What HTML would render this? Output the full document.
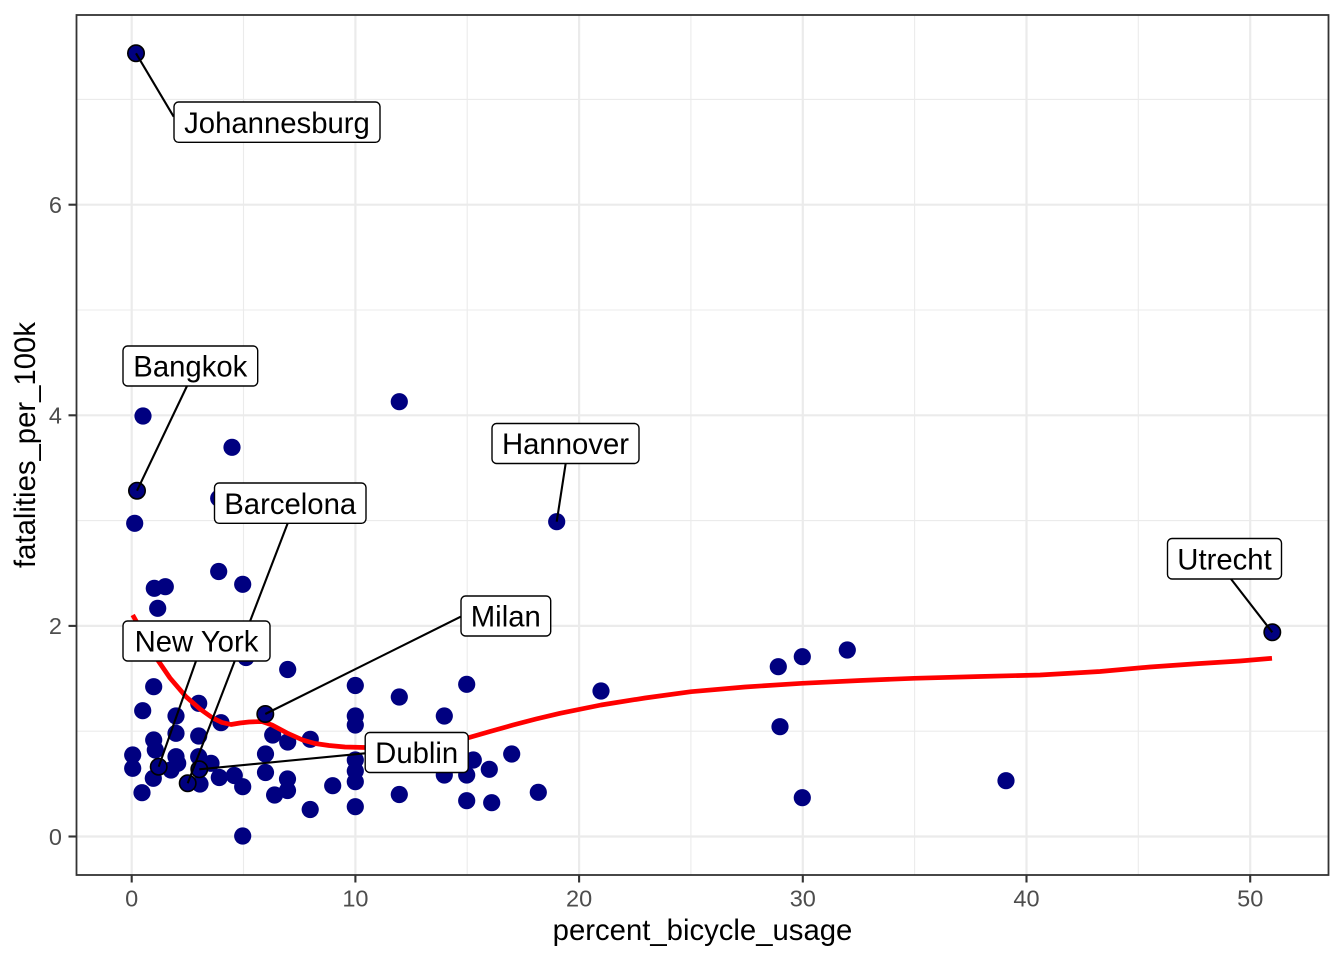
<!DOCTYPE html>
<html>
<head>
<meta charset="utf-8">
<style>
html,body{margin:0;padding:0;background:#ffffff;}
svg{display:block;}
text{font-family:"Liberation Sans",Arial,sans-serif;}
</style>
</head>
<body>
<svg width="1344" height="960" viewBox="0 0 1344 960" xmlns="http://www.w3.org/2000/svg">
<rect x="0" y="0" width="1344" height="960" fill="#ffffff"/>
<g stroke="#ebebeb" stroke-width="1.1">
<line x1="243.5" y1="15" x2="243.5" y2="875"/>
<line x1="467.2" y1="15" x2="467.2" y2="875"/>
<line x1="690.9" y1="15" x2="690.9" y2="875"/>
<line x1="914.6" y1="15" x2="914.6" y2="875"/>
<line x1="1138.3" y1="15" x2="1138.3" y2="875"/>
<line x1="76" y1="731.2" x2="1329" y2="731.2"/>
<line x1="76" y1="520.6" x2="1329" y2="520.6"/>
<line x1="76" y1="310" x2="1329" y2="310"/>
<line x1="76" y1="99.4" x2="1329" y2="99.4"/>
</g>
<g stroke="#ebebeb" stroke-width="2.2">
<line x1="131.7" y1="15" x2="131.7" y2="875"/>
<line x1="355.4" y1="15" x2="355.4" y2="875"/>
<line x1="579.1" y1="15" x2="579.1" y2="875"/>
<line x1="802.8" y1="15" x2="802.8" y2="875"/>
<line x1="1026.5" y1="15" x2="1026.5" y2="875"/>
<line x1="1250.2" y1="15" x2="1250.2" y2="875"/>
<line x1="76" y1="836.5" x2="1329" y2="836.5"/>
<line x1="76" y1="625.9" x2="1329" y2="625.9"/>
<line x1="76" y1="415.3" x2="1329" y2="415.3"/>
<line x1="76" y1="204.7" x2="1329" y2="204.7"/>
</g>
<g fill="#000080">
<circle cx="143" cy="416" r="8.6"/>
<circle cx="134.7" cy="523.3" r="8.6"/>
<circle cx="232" cy="447.3" r="8.6"/>
<circle cx="218.7" cy="498.3" r="8.6"/>
<circle cx="399.3" cy="401.7" r="8.6"/>
<circle cx="556.7" cy="521.7" r="8.6"/>
<circle cx="218.7" cy="571.5" r="8.6"/>
<circle cx="242.7" cy="584.3" r="8.6"/>
<circle cx="154.3" cy="588.3" r="8.6"/>
<circle cx="165.3" cy="586.7" r="8.6"/>
<circle cx="157.7" cy="608.3" r="8.6"/>
<circle cx="246" cy="657.5" r="8.6"/>
<circle cx="287.7" cy="669.5" r="8.6"/>
<circle cx="153.7" cy="686.7" r="8.6"/>
<circle cx="355.3" cy="685.5" r="8.6"/>
<circle cx="466.7" cy="684.3" r="8.6"/>
<circle cx="601" cy="691" r="8.6"/>
<circle cx="778.3" cy="666.7" r="8.6"/>
<circle cx="802.3" cy="656.7" r="8.6"/>
<circle cx="847.3" cy="650" r="8.6"/>
<circle cx="780" cy="726.7" r="8.6"/>
<circle cx="802.3" cy="797.7" r="8.6"/>
<circle cx="1006" cy="780.7" r="8.6"/>
<circle cx="142.7" cy="710.7" r="8.6"/>
<circle cx="176" cy="716" r="8.6"/>
<circle cx="198.7" cy="703.3" r="8.6"/>
<circle cx="399.3" cy="697" r="8.6"/>
<circle cx="355.3" cy="716" r="8.6"/>
<circle cx="355.3" cy="725" r="8.6"/>
<circle cx="221" cy="722.7" r="8.6"/>
<circle cx="444.3" cy="716" r="8.6"/>
<circle cx="176" cy="733.3" r="8.6"/>
<circle cx="198.7" cy="736" r="8.6"/>
<circle cx="153.7" cy="740" r="8.6"/>
<circle cx="272.7" cy="735" r="8.6"/>
<circle cx="287.7" cy="742" r="8.6"/>
<circle cx="310.3" cy="739.3" r="8.6"/>
<circle cx="265.5" cy="754" r="8.6"/>
<circle cx="155.3" cy="750" r="8.6"/>
<circle cx="355.3" cy="760" r="8.6"/>
<circle cx="132.7" cy="755" r="8.6"/>
<circle cx="132.7" cy="768.3" r="8.6"/>
<circle cx="176" cy="756.7" r="8.6"/>
<circle cx="177.7" cy="763.3" r="8.6"/>
<circle cx="171" cy="770" r="8.6"/>
<circle cx="198.7" cy="756.7" r="8.6"/>
<circle cx="211" cy="763.3" r="8.6"/>
<circle cx="153.3" cy="778.3" r="8.6"/>
<circle cx="200" cy="784" r="8.6"/>
<circle cx="219.3" cy="777.5" r="8.6"/>
<circle cx="234.3" cy="775.5" r="8.6"/>
<circle cx="242.7" cy="786.7" r="8.6"/>
<circle cx="265.5" cy="772.5" r="8.6"/>
<circle cx="287.5" cy="779" r="8.6"/>
<circle cx="287.5" cy="790.5" r="8.6"/>
<circle cx="274.6" cy="795" r="8.6"/>
<circle cx="332.7" cy="785.7" r="8.6"/>
<circle cx="355.3" cy="771" r="8.6"/>
<circle cx="355.3" cy="781.7" r="8.6"/>
<circle cx="355.3" cy="806.7" r="8.6"/>
<circle cx="142" cy="792.7" r="8.6"/>
<circle cx="310.2" cy="809.5" r="8.6"/>
<circle cx="242.7" cy="836" r="8.6"/>
<circle cx="399.3" cy="794.5" r="8.6"/>
<circle cx="473.3" cy="760" r="8.6"/>
<circle cx="489.3" cy="769.3" r="8.6"/>
<circle cx="511.7" cy="754" r="8.6"/>
<circle cx="444.3" cy="775" r="8.6"/>
<circle cx="466.7" cy="775" r="8.6"/>
<circle cx="466.7" cy="800.7" r="8.6"/>
<circle cx="491.7" cy="802.7" r="8.6"/>
<circle cx="538.3" cy="792.3" r="8.6"/>
</g>
<polyline fill="none" stroke="#ff0000" stroke-width="4.7" stroke-linejoin="round" stroke-linecap="butt"
points="132.7,615 140,628 148,643 157.7,660 170,678 186,696.7 200,709 212.7,718 222,722.5 231,724.5 240,723 249,722 262,721.5 272,725 287,733 302.7,740 315,743.5 329,745.5 345,747 365,747.5 390,748 410,747 430,745 450,741.5 468.3,737.7 490,731.5 513,725 536,719 560,713.3 601,705 645,698 691,691.7 745,687 802,683.3 860,680.5 914,678.3 980,676.5 1040,675 1100,671.5 1150,667 1200,663.5 1240,661 1272,658.3"/>
<g fill="#000080" stroke="#000000" stroke-width="1.6">
<circle cx="136" cy="53.3" r="8.2"/>
<circle cx="137" cy="490.7" r="8.2"/>
<circle cx="265.3" cy="714" r="8.2"/>
<circle cx="158.7" cy="766.7" r="8.2"/>
<circle cx="199.3" cy="769.3" r="8.2"/>
<circle cx="187.7" cy="783.3" r="8.2"/>
<circle cx="1272.3" cy="632.3" r="8.2"/>
</g>
<g stroke="#000000" stroke-width="2.1" stroke-linecap="butt">
<line x1="173.7" y1="116.7" x2="136" y2="53.3"/>
<line x1="187" y1="386" x2="137" y2="490.7"/>
<line x1="287.7" y1="523.3" x2="187.7" y2="783.3"/>
<line x1="565.7" y1="463.3" x2="556.7" y2="521.7"/>
<line x1="460.7" y1="616.7" x2="265.3" y2="714"/>
<line x1="1231" y1="579" x2="1272.3" y2="632.3"/>
<line x1="196" y1="661" x2="158.7" y2="766.7"/>
<line x1="365" y1="753.3" x2="199.3" y2="769.3"/>
</g>
<g fill="#ffffff" stroke="#000000" stroke-width="1.4">
<rect x="174" y="102" width="206" height="40.3" rx="4.5"/>
<rect x="123" y="346" width="134.7" height="40" rx="4.5"/>
<rect x="214.5" y="483" width="151.5" height="40.3" rx="4.5"/>
<rect x="492" y="423.5" width="147" height="40" rx="4.5"/>
<rect x="461" y="596" width="89.7" height="40" rx="4.5"/>
<rect x="1167.5" y="538.5" width="114" height="40.5" rx="4.5"/>
<rect x="123" y="621" width="147" height="40" rx="4.5"/>
<rect x="365.2" y="732.5" width="103" height="40" rx="4.5"/>
</g>
<g fill="#000000" font-size="29.3" text-anchor="middle">
<text x="277" y="132.8">Johannesburg</text>
<text x="190.3" y="376.5">Bangkok</text>
<text x="290.2" y="513.8">Barcelona</text>
<text x="565.5" y="454">Hannover</text>
<text x="505.8" y="626.5">Milan</text>
<text x="1224.5" y="569.5">Utrecht</text>
<text x="196.5" y="651.5">New York</text>
<text x="416.7" y="763">Dublin</text>
</g>
<rect x="76.5" y="15" width="1252" height="860" fill="none" stroke="#333333" stroke-width="1.8"/>
<g stroke="#333333" stroke-width="2.1">
<line x1="131.7" y1="875" x2="131.7" y2="882.5"/>
<line x1="355.4" y1="875" x2="355.4" y2="882.5"/>
<line x1="579.1" y1="875" x2="579.1" y2="882.5"/>
<line x1="802.8" y1="875" x2="802.8" y2="882.5"/>
<line x1="1026.5" y1="875" x2="1026.5" y2="882.5"/>
<line x1="1250.2" y1="875" x2="1250.2" y2="882.5"/>
<line x1="68.5" y1="836.5" x2="76" y2="836.5"/>
<line x1="68.5" y1="625.9" x2="76" y2="625.9"/>
<line x1="68.5" y1="415.3" x2="76" y2="415.3"/>
<line x1="68.5" y1="204.7" x2="76" y2="204.7"/>
</g>
<g fill="#4d4d4d" font-size="23.5" text-anchor="middle">
<text x="131.7" y="906.5">0</text>
<text x="355.4" y="906.5">10</text>
<text x="579.1" y="906.5">20</text>
<text x="802.8" y="906.5">30</text>
<text x="1026.5" y="906.5">40</text>
<text x="1250.2" y="906.5">50</text>
</g>
<g fill="#4d4d4d" font-size="23.5" text-anchor="end">
<text x="62" y="844.8">0</text>
<text x="62" y="634.2">2</text>
<text x="62" y="423.6">4</text>
<text x="62" y="213">6</text>
</g>
<text x="702.5" y="940" font-size="29.3" fill="#000000" text-anchor="middle">percent_bicycle_usage</text>
<text x="0" y="0" font-size="29.3" fill="#000000" text-anchor="middle" transform="translate(35,445) rotate(-90)">fatalities_per_100k</text>
</svg>
</body>
</html>
